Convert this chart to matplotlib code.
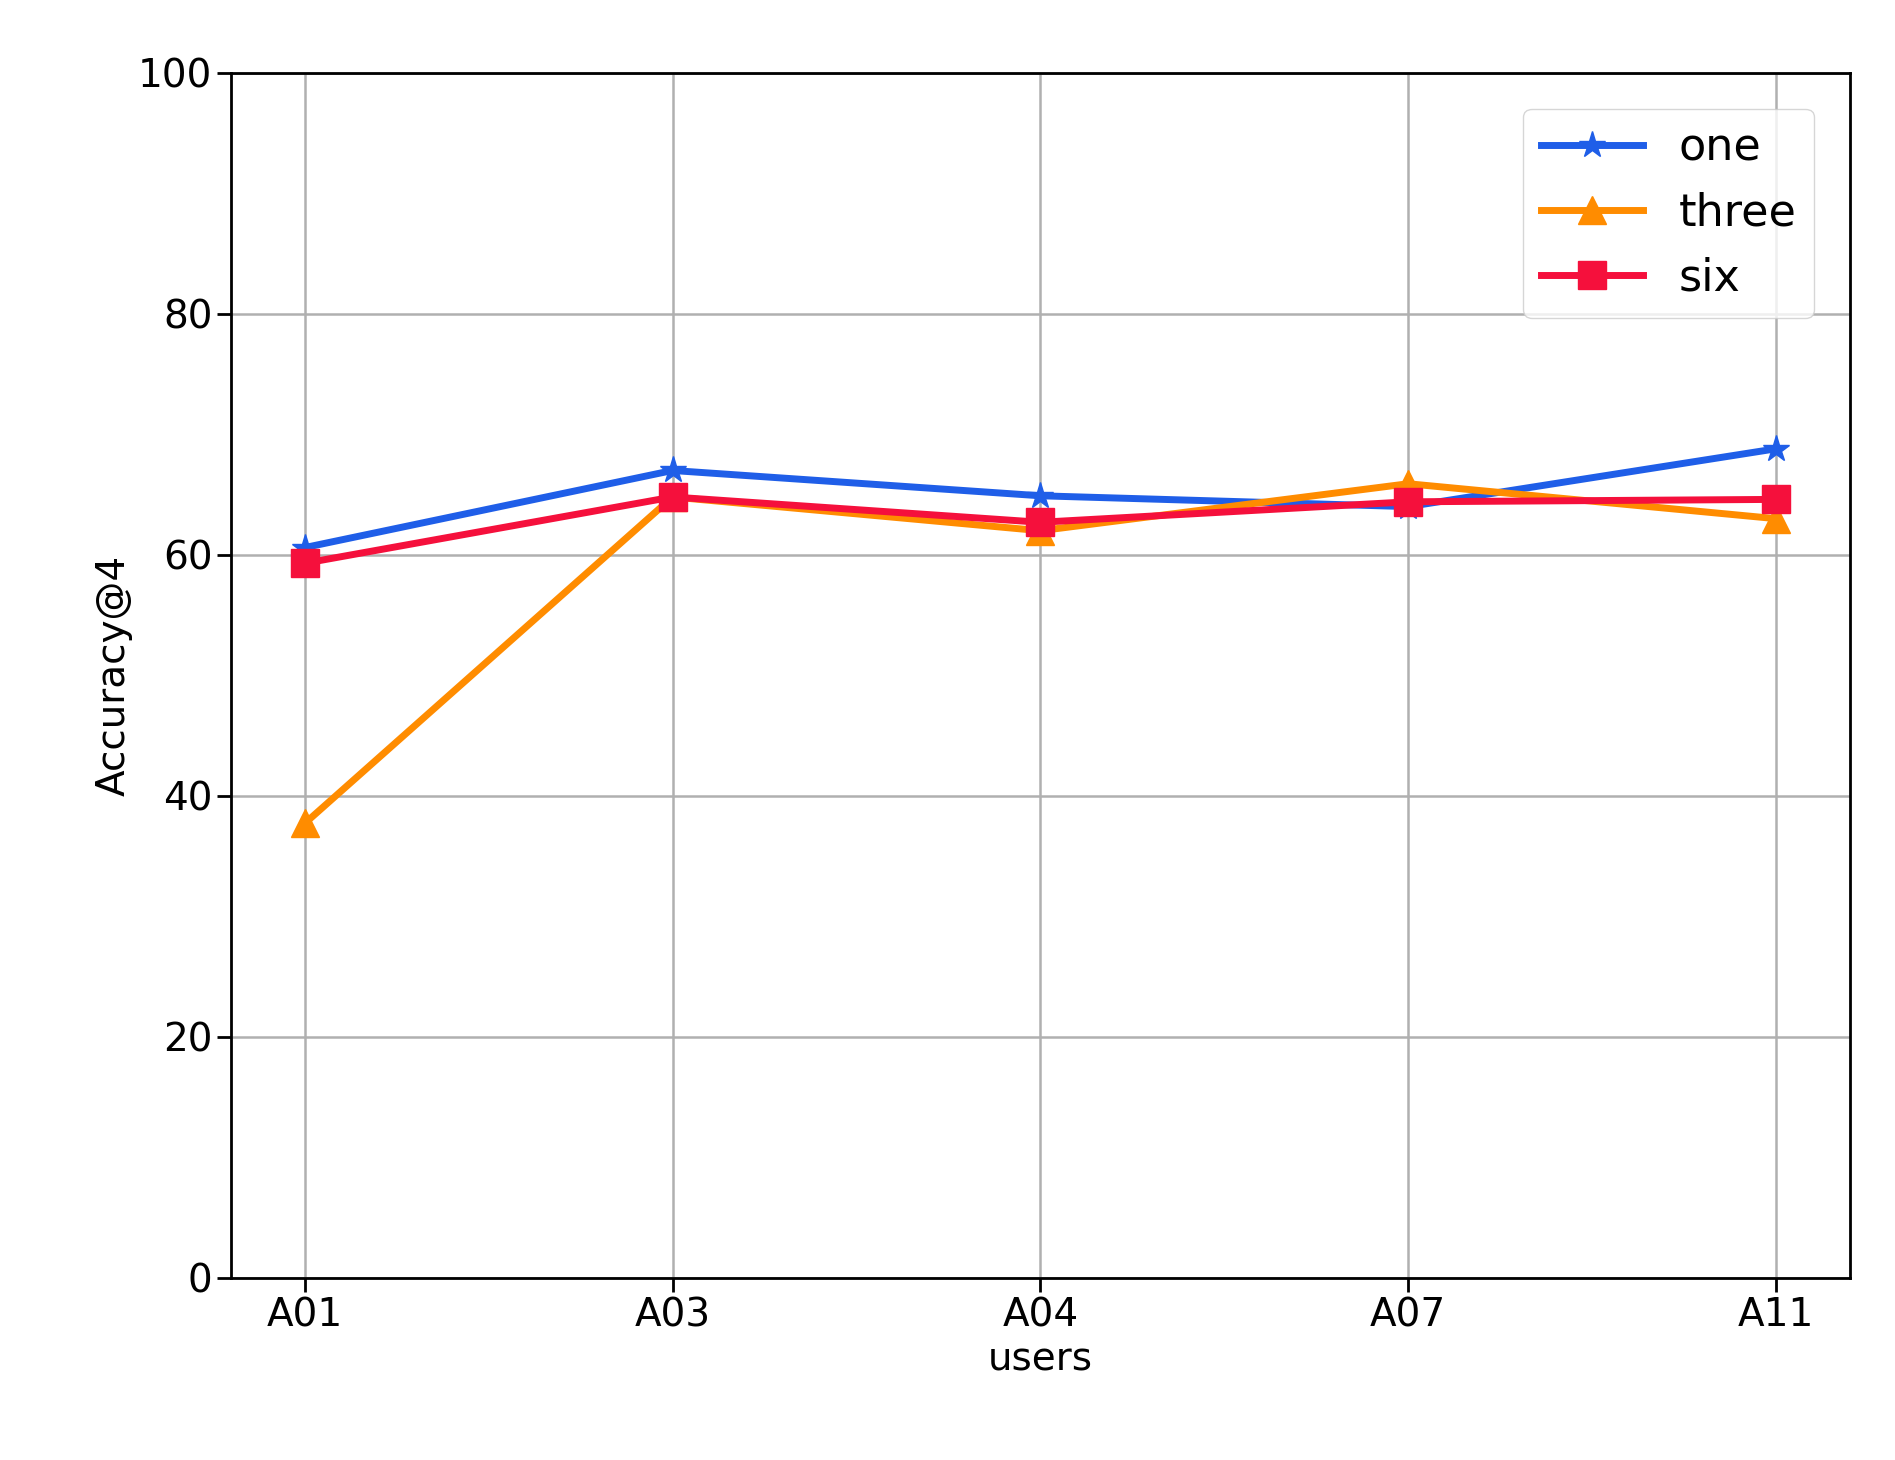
import numpy as np
import matplotlib.pyplot as plt

users = ['A01', 'A03', 'A04', 'A07', 'A11']
one = [60.6, 67.0, 64.9, 64.0, 68.8]
three = [37.7, 64.8, 62.0, 65.9, 63.0]
six = [59.3, 64.8, 62.7, 64.4, 64.6]

plt.rcParams['font.size'] = 28
fig = plt.figure(figsize=(18.95, 14.6), dpi=100)
ax = fig.add_axes([0.122, 0.125, 0.854, 0.825])
x = np.arange(len(users))
ax.plot(x, one, color='#1f5ee8', marker='*', markersize=20, linewidth=5, label='one')
ax.plot(x, three, color='#ff8c00', marker='^', markersize=20, linewidth=5, label='three')
ax.plot(x, six, color='#f5103c', marker='s', markersize=20, linewidth=5, label='six')
ax.set_xticks(x)
ax.set_xticklabels(users)
ax.set_ylim(0, 100)
ax.set_xlim(-0.2, 4.2)
ax.set_xlabel('users')
ax.set_ylabel('Accuracy@4')
ax.grid(True, color='#b0b0b0', linewidth=1.8)
ax.tick_params(length=10, width=2)
for s in ax.spines.values():
    s.set_linewidth(2)
ax.legend(loc='upper right', fontsize=32, handlelength=2.3, borderaxespad=0.8)
fig.savefig('out.png')
